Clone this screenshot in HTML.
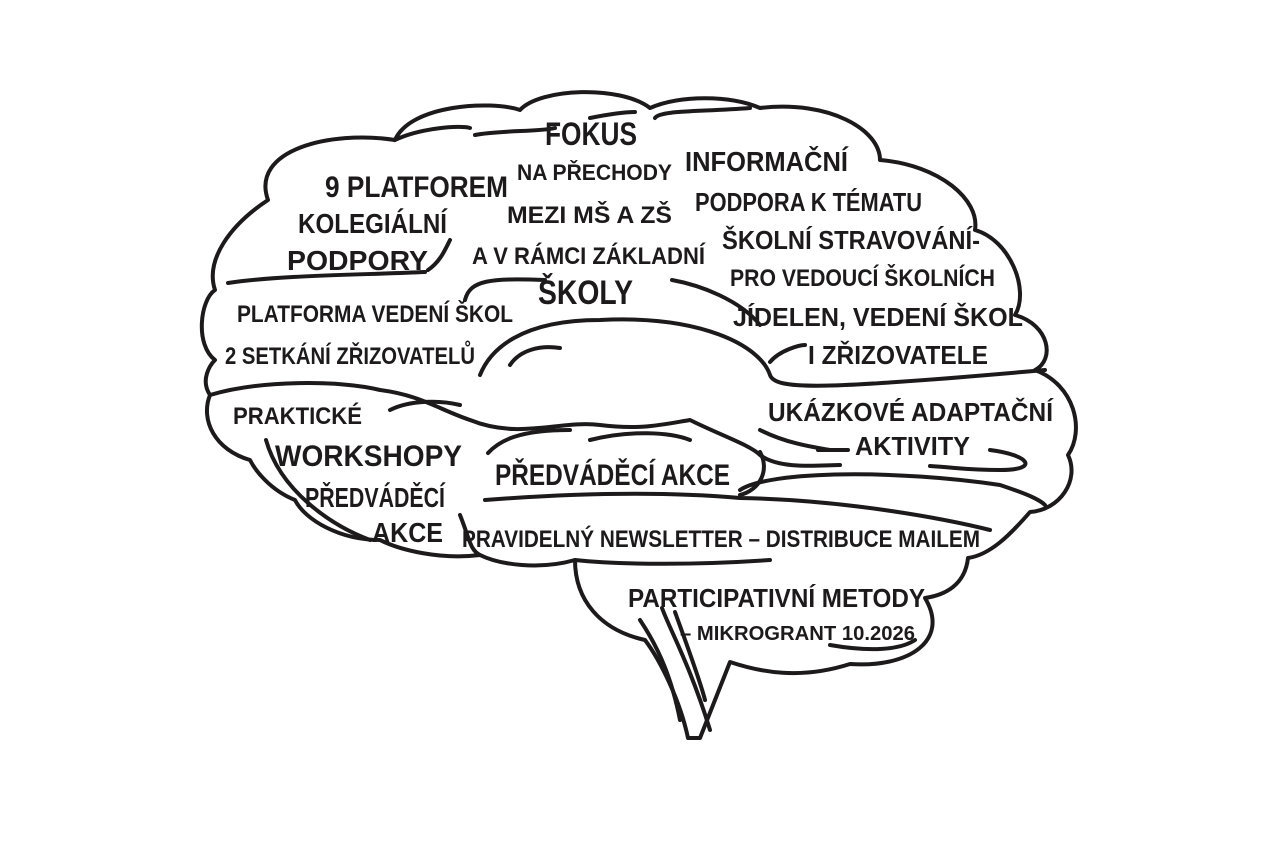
<!DOCTYPE html>
<html><head><meta charset="utf-8"><style>
html,body{margin:0;padding:0;background:#fff;width:1280px;height:853px;overflow:hidden}
svg{display:block}
text{font-family:"Liberation Sans Narrow","Liberation Sans",sans-serif;font-weight:bold;fill:#1c1a1a}
</style></head><body>
<svg width="1280" height="853" viewBox="0 0 1280 853">
<g fill="none" stroke="#1c1a1a" stroke-width="4" stroke-linecap="round" stroke-linejoin="round">
<path d="M268,200 C250,150 330,130 395,140 C410,105 490,100 520,110 C540,88 620,85 650,108 C680,95 730,95 760,108 C830,100 880,130 880,160 C940,165 980,200 975,230 C1010,240 1030,290 1015,315 C1050,325 1055,360 1035,370 C1075,385 1085,430 1068,455 C1080,480 1060,510 1030,512 C1010,535 990,555 968,558 C965,585 945,595 925,598 C950,640 910,668 850,664 C800,680 760,672 730,662 L700,738 L688,738 C680,700 660,660 645,640 C600,630 575,600 575,560 C540,570 500,565 480,555 C440,560 400,550 380,540 C340,540 305,520 295,500 C270,490 255,470 250,460 C215,450 200,420 210,395 C200,380 210,365 215,360 C195,345 200,300 215,290 C205,260 230,225 268,200 Z"/>
<path d="M662,608 C670,630 690,665 710,730"/>
<path d="M675,612 C685,640 700,680 705,700"/>
<path d="M640,620 C660,650 672,680 680,720"/>
<path d="M395,140 C420,128 460,125 470,128"/>
<path d="M475,135 C500,130 540,132 555,128"/>
<path d="M465,300 C470,280 490,278 545,280"/>
<path d="M428,270 C440,262 445,250 450,240"/>
<path d="M228,283 C280,275 360,275 425,272"/>
<path d="M655,118 C660,110 700,112 750,108"/>
<path d="M590,118 C620,112 630,112 635,112"/>
<path d="M672,280 C700,285 740,300 760,325"/>
<path d="M480,375 C490,350 520,320 600,320 C700,315 760,345 770,375 C775,390 820,390 1045,370"/>
<path d="M510,365 C520,350 540,345 560,348"/>
<path d="M770,362 C780,350 800,345 805,345"/>
<path d="M210,395 C260,380 340,380 380,390 C420,395 440,410 470,420 C520,440 560,420 600,425 C640,430 660,425 690,420 C720,435 750,445 760,455 C780,470 820,465 840,465"/>
<path d="M390,410 C410,400 440,400 460,405"/>
<path d="M488,453 C500,440 520,430 570,430"/>
<path d="M590,440 C630,430 670,432 690,440"/>
<path d="M760,430 C790,445 820,448 830,450"/>
<path d="M818,450 L848,450"/>
<path d="M990,450 C1030,455 1040,470 1000,470 C970,470 960,468 930,466"/>
<path d="M740,490 C770,470 900,470 1000,485 C1030,495 1040,500 1045,505"/>
<path d="M760,452 C770,470 760,490 740,495"/>
<path d="M485,500 C550,495 650,490 740,498 C850,500 950,520 990,530"/>
<path d="M266,440 C280,490 330,525 370,540"/>
<path d="M460,515 C470,540 470,550 480,555"/>
<path d="M575,560 C620,565 700,565 770,560"/>
<path d="M830,645 C870,652 900,650 915,640"/>
</g>
<text x="545" y="145" font-size="32" textLength="92" lengthAdjust="spacingAndGlyphs">FOKUS</text>
<text x="517" y="180" font-size="22" textLength="155" lengthAdjust="spacingAndGlyphs">NA PŘECHODY</text>
<text x="507" y="223" font-size="24" textLength="165" lengthAdjust="spacingAndGlyphs">MEZI MŠ A ZŠ</text>
<text x="472" y="264" font-size="24" textLength="233" lengthAdjust="spacingAndGlyphs">A V RÁMCI ZÁKLADNÍ</text>
<text x="538" y="304" font-size="34" textLength="95" lengthAdjust="spacingAndGlyphs">ŠKOLY</text>
<text x="325" y="197" font-size="30" textLength="183" lengthAdjust="spacingAndGlyphs">9 PLATFOREM</text>
<text x="298" y="233" font-size="28" textLength="149" lengthAdjust="spacingAndGlyphs">KOLEGIÁLNÍ</text>
<text x="287" y="270" font-size="28" textLength="141" lengthAdjust="spacingAndGlyphs">PODPORY</text>
<text x="685" y="171" font-size="28" textLength="163" lengthAdjust="spacingAndGlyphs">INFORMAČNÍ</text>
<text x="695" y="211" font-size="26" textLength="227" lengthAdjust="spacingAndGlyphs">PODPORA K TÉMATU</text>
<text x="722" y="249" font-size="26" textLength="258" lengthAdjust="spacingAndGlyphs">ŠKOLNÍ STRAVOVÁNÍ-</text>
<text x="730" y="286" font-size="24" textLength="265" lengthAdjust="spacingAndGlyphs">PRO VEDOUCÍ ŠKOLNÍCH</text>
<text x="733" y="326" font-size="26" textLength="290" lengthAdjust="spacingAndGlyphs">JÍDELEN, VEDENÍ ŠKOL</text>
<text x="808" y="364" font-size="26" textLength="180" lengthAdjust="spacingAndGlyphs">I ZŘIZOVATELE</text>
<text x="237" y="322" font-size="24" textLength="276" lengthAdjust="spacingAndGlyphs">PLATFORMA VEDENÍ ŠKOL</text>
<text x="225" y="364" font-size="24" textLength="250" lengthAdjust="spacingAndGlyphs">2 SETKÁNÍ ZŘIZOVATELŮ</text>
<text x="233" y="424" font-size="24" textLength="129" lengthAdjust="spacingAndGlyphs">PRAKTICKÉ</text>
<text x="275" y="466" font-size="30" textLength="187" lengthAdjust="spacingAndGlyphs">WORKSHOPY</text>
<text x="305" y="507" font-size="28" textLength="140" lengthAdjust="spacingAndGlyphs">PŘEDVÁDĚCÍ</text>
<text x="372" y="542" font-size="28" textLength="71" lengthAdjust="spacingAndGlyphs">AKCE</text>
<text x="495" y="485" font-size="30" textLength="235" lengthAdjust="spacingAndGlyphs">PŘEDVÁDĚCÍ AKCE</text>
<text x="768" y="421" font-size="26" textLength="285" lengthAdjust="spacingAndGlyphs">UKÁZKOVÉ ADAPTAČNÍ</text>
<text x="855" y="455" font-size="26" textLength="115" lengthAdjust="spacingAndGlyphs">AKTIVITY</text>
<text x="462" y="547" font-size="24" textLength="518" lengthAdjust="spacingAndGlyphs">PRAVIDELNÝ NEWSLETTER – DISTRIBUCE MAILEM</text>
<text x="628" y="607" font-size="26" textLength="297" lengthAdjust="spacingAndGlyphs">PARTICIPATIVNÍ METODY</text>
<text x="680" y="640" font-size="20" textLength="235" lengthAdjust="spacingAndGlyphs">– MIKROGRANT 10.2026</text>
</svg>
</body></html>
